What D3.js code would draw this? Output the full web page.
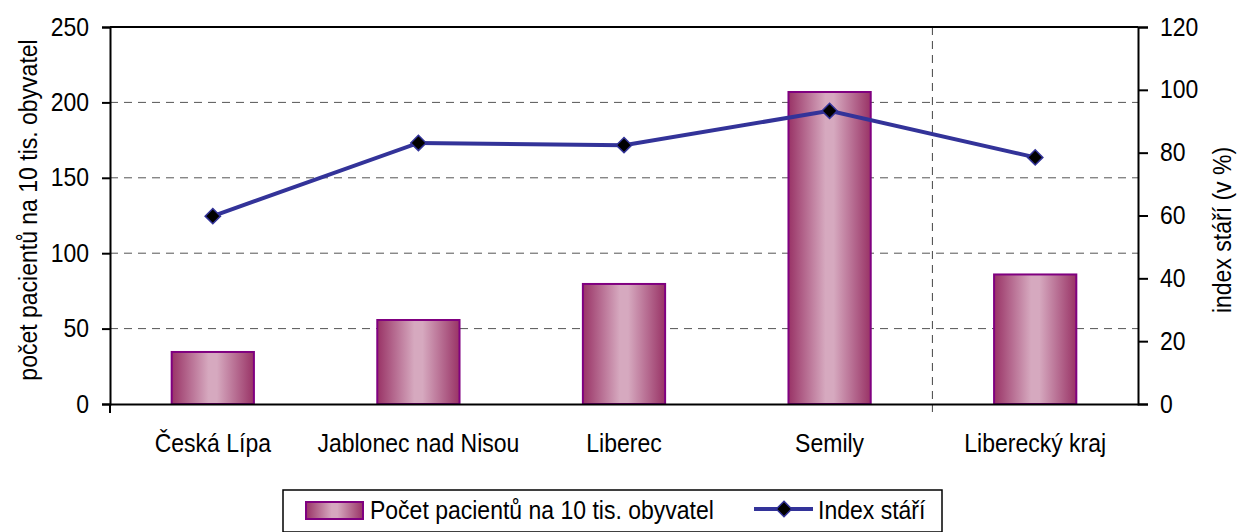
<!DOCTYPE html>
<html>
<head>
<meta charset="utf-8">
<script src="https://cdn.jsdelivr.net/npm/d3@7"></script>
<style>
  body { margin: 0; background: #fff; }
  svg text { font-family: "Liberation Sans Narrow", "Arial Narrow", "Liberation Sans", Arial, sans-serif; fill: #000; font-size: 25px; }
</style>
</head>
<body>
<div id="chart"></div>
<script>
const categories = ["Česká Lípa", "Jablonec nad Nisou", "Liberec", "Semily", "Liberecký kraj"];
const patients = [34.5, 55.7, 79.6, 206.9, 85.9];
const ageIndex = [59.8, 83.1, 82.4, 93.3, 78.5];
const leftTicks = [0, 50, 100, 150, 200, 250];
const rightTicks = [0, 20, 40, 60, 80, 100, 120];
const barLabel = "Počet pacientů na 10 tis. obyvatel";
const lineLabel = "Index stáří";
const leftTitle = "počet pacientů na 10 tis. obyvatel";
const rightTitle = "index stáří (v %)";

const w = 1240;
const h = 532;
const padL = 110, padR = 1138, padT = 27, padB = 404;
const sx = 0.92; // horizontal squeeze, the original font is a narrow one

const svg = d3.select("#chart").append("svg")
  .attr("width", w)
  .attr("height", h);

// squeeze text horizontally while keeping its anchor point
function narrow(sel) {
  sel.each(function () {
    const t = d3.select(this);
    const x = +t.attr("x") || 0;
    t.attr("x", x / sx).attr("transform", (t.attr("transform") || "") + " scale(" + sx + ",1)");
  });
}

// horizontal gradient for the bars
const grad = svg.append("defs").append("linearGradient")
  .attr("id", "barGrad")
  .attr("x1", "0%").attr("x2", "100%").attr("y1", "0%").attr("y2", "0%");
grad.append("stop").attr("offset", "0%").attr("stop-color", "#993366");
grad.append("stop").attr("offset", "45%").attr("stop-color", "#d6a9bf");
grad.append("stop").attr("offset", "55%").attr("stop-color", "#d6a9bf");
grad.append("stop").attr("offset", "100%").attr("stop-color", "#993366");

const xScale = d3.scaleBand()
  .domain(categories)
  .range([padL, padR])
  .paddingInner(0.6)
  .paddingOuter(0.3);

const yLeft = d3.scaleLinear().domain([0, 250]).range([padB, padT]);
const yRight = d3.scaleLinear().domain([0, 120]).range([padB, padT]);

// dashed gridlines
svg.append("g")
  .selectAll("line")
  .data(leftTicks.filter(d => d > 0 && d < 250))
  .enter()
  .append("line")
  .attr("x1", padL).attr("x2", padR)
  .attr("y1", d => yLeft(d)).attr("y2", d => yLeft(d))
  .attr("stroke", "#555")
  .attr("stroke-width", 1)
  .attr("stroke-dasharray", "8,6");

// vertical gridline between Semily and Liberecký kraj
const step = xScale.step();
const vx = xScale(categories[4]) - xScale.paddingInner() * step / 2;
svg.append("line")
  .attr("x1", vx).attr("x2", vx)
  .attr("y1", padT).attr("y2", padB + 8)
  .attr("stroke", "#444")
  .attr("stroke-dasharray", "8,6");

// top border
svg.append("line")
  .attr("x1", padL).attr("x2", padR)
  .attr("y1", padT).attr("y2", padT)
  .attr("stroke", "#000").attr("stroke-width", 2);

// bars
svg.selectAll("rect.bar")
  .data(patients)
  .enter()
  .append("rect")
  .attr("class", "bar")
  .attr("x", (d, i) => xScale(categories[i]))
  .attr("y", d => yLeft(d))
  .attr("width", xScale.bandwidth())
  .attr("height", d => padB - yLeft(d))
  .attr("fill", "url(#barGrad)")
  .attr("stroke", "#800080")
  .attr("stroke-width", 2);

// line
const cx = (d, i) => xScale(categories[i]) + xScale.bandwidth() / 2;
const line = d3.line()
  .x(cx)
  .y(d => yRight(d));

svg.append("path")
  .datum(ageIndex)
  .attr("d", line)
  .attr("fill", "none")
  .attr("stroke", "#333399")
  .attr("stroke-width", 4);

const diamond = d3.symbol().type(d3.symbolDiamond2).size(150);
svg.selectAll("path.marker")
  .data(ageIndex)
  .enter()
  .append("path")
  .attr("class", "marker")
  .attr("d", diamond)
  .attr("transform", (d, i) => "translate(" + cx(d, i) + "," + yRight(d) + ")")
  .attr("fill", "#000")
  .attr("stroke", "#333399")
  .attr("stroke-width", 1.5);

// axes
const leftAxis = d3.axisLeft(yLeft).tickValues(leftTicks).tickSizeOuter(0).tickSize(8).tickPadding(13);
const rightAxis = d3.axisRight(yRight).tickValues(rightTicks).tickSizeOuter(0).tickSize(10).tickPadding(12);

const gl = svg.append("g")
  .attr("transform", "translate(" + padL + ",0)")
  .call(leftAxis);
const gr = svg.append("g")
  .attr("transform", "translate(" + padR + ",0)")
  .call(rightAxis);

[gl, gr].forEach(g => {
  g.attr("font-family", null).attr("font-size", null);
  g.select(".domain").attr("stroke", "#000").attr("stroke-width", 2);
  g.selectAll(".tick line").attr("stroke", "#000").attr("stroke-width", 2);
  g.selectAll(".tick text").attr("fill", "#000").call(narrow);
});

// bottom axis
const xAxis = d3.axisBottom(xScale).tickSize(0).tickSizeOuter(0).tickPadding(30);
const gx = svg.append("g")
  .attr("transform", "translate(0," + padB + ")")
  .call(xAxis);
gx.attr("font-family", null).attr("font-size", null);
gx.select(".domain").attr("stroke", "#000").attr("stroke-width", 2);
gx.selectAll(".tick text").attr("fill", "#000").call(narrow);
svg.append("line")
  .attr("x1", padL).attr("x2", padL)
  .attr("y1", padB).attr("y2", padB + 9)
  .attr("stroke", "#000").attr("stroke-width", 2);

// axis titles
svg.append("text")
  .attr("transform", "translate(37,210) rotate(-90) scale(" + sx + ",1)")
  .attr("text-anchor", "middle")
  .text(leftTitle);

svg.append("text")
  .attr("transform", "translate(1231,230) rotate(-90) scale(" + sx + ",1)")
  .attr("text-anchor", "middle")
  .text(rightTitle);

// legend
const lg = svg.append("g").attr("transform", "translate(283,490)");
lg.append("rect")
  .attr("width", 659).attr("height", 42)
  .attr("fill", "#fff")
  .attr("stroke", "#000").attr("stroke-width", 1.5);
lg.append("rect")
  .attr("x", 23).attr("y", 12)
  .attr("width", 57).attr("height", 17)
  .attr("fill", "url(#barGrad)")
  .attr("stroke", "#800080").attr("stroke-width", 2);
lg.append("text")
  .attr("x", 87).attr("y", 29)
  .text(barLabel)
  .call(narrow);
lg.append("line")
  .attr("x1", 471).attr("x2", 530)
  .attr("y1", 19).attr("y2", 19)
  .attr("stroke", "#333399").attr("stroke-width", 4);
lg.append("path")
  .attr("d", diamond)
  .attr("transform", "translate(501,19)")
  .attr("fill", "#000")
  .attr("stroke", "#333399")
  .attr("stroke-width", 1.5);
lg.append("text")
  .attr("x", 535).attr("y", 29)
  .text(lineLabel)
  .call(narrow);
</script>
</body>
</html>
